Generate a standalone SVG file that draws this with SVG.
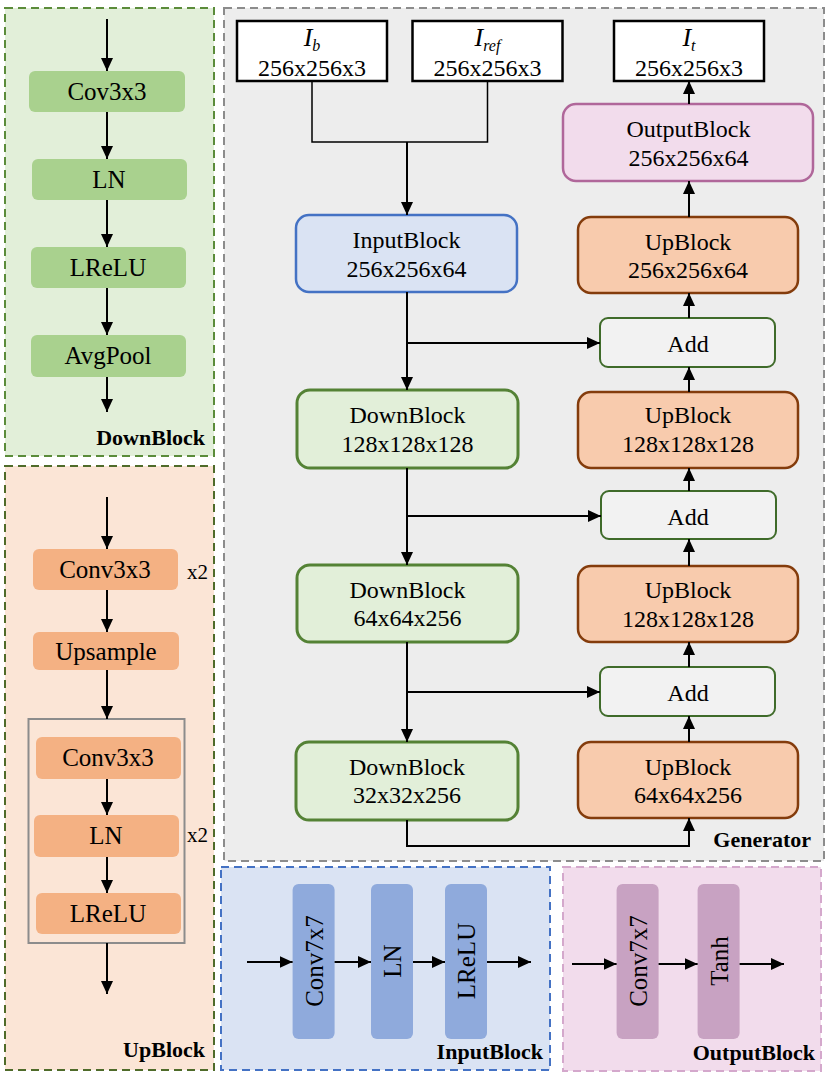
<svg xmlns="http://www.w3.org/2000/svg" width="830" height="1078" viewBox="0 0 830 1078">
<defs>
<marker id="ah" viewBox="0 0 13 12" refX="13" refY="6" markerWidth="13" markerHeight="12" markerUnits="userSpaceOnUse" orient="auto">
<path d="M0,0 L13,6 L0,12 z" fill="#000"/>
</marker>
<style>
text{font-family:"Liberation Serif","Times New Roman",serif;fill:#000;}
.t{font-size:24px;text-anchor:middle;}
.it{font-size:26px;text-anchor:middle;font-style:italic;}
.s{font-size:25px;text-anchor:middle;}
.lbl{font-size:22px;font-weight:bold;text-anchor:end;}
.x2{font-size:21px;}
.v{font-size:25px;text-anchor:middle;}
.a{stroke:#000;stroke-width:2;fill:none;marker-end:url(#ah);}
.ln{stroke:#000;stroke-width:1.5;fill:none;}
.panel{stroke-width:2;stroke-dasharray:8,5;}
.dbox{fill:#a9d18e;}
.ubox{fill:#f4b183;}
.io{fill:#fff;stroke:#000;stroke-width:2.5;}
.gin{fill:#dae3f3;stroke:#4472c4;stroke-width:2.5;}
.gdown{fill:#e2efd9;stroke:#548235;stroke-width:3;}
.gup{fill:#f8cbad;stroke:#843c0c;stroke-width:2.5;}
.gadd{fill:#f2f2f2;stroke:#3f6b2a;stroke-width:2;}
.gout{fill:#f2dcec;stroke:#b0679a;stroke-width:2.5;}
.ibar{fill:#8faadc;}
.obar{fill:#c8a2c2;}
</style>
</defs>

<!-- Panels -->
<g id="panel-downblock">
<rect class="panel" x="5" y="8" width="209" height="448" fill="#e2efd9" stroke="#5b8c3a"/>
<text class="lbl" x="205" y="445">DownBlock</text>
</g>
<g id="panel-upblock">
<rect class="panel" x="5" y="466" width="209" height="604" fill="#fbe5d6" stroke="#4f6b2a"/>
<text class="lbl" x="205" y="1057">UpBlock</text>
</g>
<g id="panel-generator">
<rect class="panel" x="224" y="8" width="600" height="853" fill="#ededed" stroke="#8c8c8c"/>
<text class="lbl" x="811" y="847">Generator</text>
</g>
<g id="panel-inputblock">
<rect class="panel" x="221" y="867" width="329" height="203" fill="#dae3f3" stroke="#4472c4"/>
<text class="lbl" x="543" y="1059">InputBlock</text>
</g>
<g id="panel-outputblock">
<rect class="panel" x="563" y="867" width="258" height="204" fill="#f2dcec" stroke="#d4a8cc"/>
<text class="lbl" x="815" y="1060">OutputBlock</text>
</g>

<!-- DownBlock detail nodes -->
<g id="db-conv"><rect class="dbox" x="29" y="71" width="156" height="41" rx="6"/><text class="s" x="107" y="100">Cov3x3</text></g>
<g id="db-ln"><rect class="dbox" x="32" y="159" width="155" height="41" rx="6"/><text class="s" x="109" y="188">LN</text></g>
<g id="db-lrelu"><rect class="dbox" x="31" y="247" width="155" height="41" rx="6"/><text class="s" x="108" y="276">LReLU</text></g>
<g id="db-avgpool"><rect class="dbox" x="31" y="335" width="155" height="42" rx="6"/><text class="s" x="108" y="364">AvgPool</text></g>

<!-- UpBlock detail nodes -->
<g id="ub-conv1"><rect class="ubox" x="33" y="549" width="145" height="41" rx="6"/><text class="s" x="105" y="578">Conv3x3</text></g>
<text class="x2" x="187" y="579">x2</text>
<g id="ub-upsample"><rect class="ubox" x="33" y="632" width="146" height="38" rx="6"/><text class="s" x="106" y="660">Upsample</text></g>
<g id="ub-repeat"><rect x="28.5" y="719" width="156" height="224" fill="none" stroke="#8c8c8c" stroke-width="2"/></g>
<g id="ub-conv2"><rect class="ubox" x="36" y="737" width="145" height="42" rx="6"/><text class="s" x="108" y="766">Conv3x3</text></g>
<g id="ub-ln"><rect class="ubox" x="34" y="815" width="145" height="42" rx="6"/><text class="s" x="106" y="844">LN</text></g>
<g id="ub-lrelu"><rect class="ubox" x="36" y="893" width="145" height="41" rx="6"/><text class="s" x="108" y="922">LReLU</text></g>
<text class="x2" x="187" y="842">x2</text>

<!-- Generator nodes -->
<g id="in-ib"><rect class="io" x="237" y="21" width="150" height="60"/><text class="it" x="312" y="46">I<tspan font-size="16" dy="5">b</tspan></text><text class="t" x="312" y="76">256x256x3</text></g>
<g id="in-iref"><rect class="io" x="412.5" y="21" width="150" height="60"/><text class="it" x="487.5" y="46">I<tspan font-size="16" dy="5">ref</tspan></text><text class="t" x="487.5" y="76">256x256x3</text></g>
<g id="out-it"><rect class="io" x="614" y="21" width="150" height="60"/><text class="it" x="689" y="46">I<tspan font-size="16" dy="5">t</tspan></text><text class="t" x="689" y="76">256x256x3</text></g>

<g id="g-inputblock"><rect class="gin" x="296" y="215" width="221" height="77" rx="13"/><text class="t" x="406.5" y="248">InputBlock</text><text class="t" x="406.5" y="277">256x256x64</text></g>
<g id="g-down1"><rect class="gdown" x="297" y="390" width="221" height="78" rx="13"/><text class="t" x="407.5" y="423">DownBlock</text><text class="t" x="407.5" y="452">128x128x128</text></g>
<g id="g-down2"><rect class="gdown" x="297" y="565" width="221" height="77" rx="13"/><text class="t" x="407.5" y="598">DownBlock</text><text class="t" x="407.5" y="626">64x64x256</text></g>
<g id="g-down3"><rect class="gdown" x="296" y="742" width="222" height="78" rx="13"/><text class="t" x="407" y="775">DownBlock</text><text class="t" x="407" y="803">32x32x256</text></g>

<g id="g-outputblock"><rect class="gout" x="563" y="104" width="250" height="77" rx="13"/><text class="t" x="688.5" y="137">OutputBlock</text><text class="t" x="688.5" y="166">256x256x64</text></g>
<g id="g-up256"><rect class="gup" x="578" y="217" width="220" height="76" rx="13"/><text class="t" x="688" y="250">UpBlock</text><text class="t" x="688" y="278">256x256x64</text></g>
<g id="g-add1"><rect class="gadd" x="600" y="318" width="175" height="49" rx="8"/><text class="t" x="688" y="352">Add</text></g>
<g id="g-up128a"><rect class="gup" x="578" y="392" width="220" height="76" rx="13"/><text class="t" x="688" y="423">UpBlock</text><text class="t" x="688" y="452">128x128x128</text></g>
<g id="g-add2"><rect class="gadd" x="601" y="491" width="175" height="48" rx="8"/><text class="t" x="688" y="525">Add</text></g>
<g id="g-up128b"><rect class="gup" x="578" y="566" width="220" height="76" rx="13"/><text class="t" x="688" y="598">UpBlock</text><text class="t" x="688" y="627">128x128x128</text></g>
<g id="g-add3"><rect class="gadd" x="600" y="667" width="175" height="49" rx="8"/><text class="t" x="688" y="701">Add</text></g>
<g id="g-up64"><rect class="gup" x="578" y="742" width="220" height="76" rx="13"/><text class="t" x="688" y="775">UpBlock</text><text class="t" x="688" y="803">64x64x256</text></g>

<!-- InputBlock detail -->
<g id="ib-conv"><rect class="ibar" x="292.6" y="884" width="42" height="155" rx="6"/><text class="v" x="313.6" y="970" transform="rotate(-90 313.6 961)">Conv7x7</text></g>
<g id="ib-ln"><rect class="ibar" x="371" y="884" width="42" height="155" rx="6"/><text class="v" x="392" y="970" transform="rotate(-90 392 961)">LN</text></g>
<g id="ib-lrelu"><rect class="ibar" x="445" y="884" width="42" height="155" rx="6"/><text class="v" x="466" y="970" transform="rotate(-90 466 961)">LReLU</text></g>

<!-- OutputBlock detail -->
<g id="ob-conv"><rect class="obar" x="616.6" y="884" width="42" height="155" rx="6"/><text class="v" x="637.6" y="970" transform="rotate(-90 637.6 961)">Conv7x7</text></g>
<g id="ob-tanh"><rect class="obar" x="697.6" y="884" width="42" height="155" rx="6"/><text class="v" x="718.6" y="970" transform="rotate(-90 718.6 961)">Tanh</text></g>

<!-- Connectors -->
<g id="connectors">
<line class="a" x1="107" y1="19" x2="107" y2="71"/>
<line class="a" x1="107" y1="112" x2="107" y2="159"/>
<line class="a" x1="107" y1="200" x2="107" y2="247"/>
<line class="a" x1="107" y1="288" x2="107" y2="335"/>
<line class="a" x1="107" y1="377" x2="107" y2="412"/>

<line class="a" x1="107" y1="497" x2="107" y2="549"/>
<line class="a" x1="107" y1="590" x2="107" y2="632"/>
<line class="a" x1="107" y1="670" x2="107" y2="719"/>
<line class="a" x1="107" y1="779" x2="107" y2="815"/>
<line class="a" x1="107" y1="857" x2="107" y2="893"/>
<line class="a" x1="107" y1="943" x2="107" y2="994"/>

<polyline class="ln" points="312,81 312,142 487.5,142 487.5,81"/>
<line class="a" x1="407" y1="142" x2="407" y2="215"/>
<line class="a" x1="407" y1="292" x2="407" y2="390"/>
<line class="a" x1="407" y1="343" x2="600" y2="343"/>
<line class="a" x1="407" y1="468" x2="407" y2="565"/>
<line class="a" x1="407" y1="516" x2="601" y2="516"/>
<line class="a" x1="407" y1="642" x2="407" y2="742"/>
<line class="a" x1="407" y1="692" x2="600" y2="692"/>
<polyline class="a" points="407,820 407,846 689,846 689,818"/>

<line class="a" x1="689" y1="742" x2="689" y2="716"/>
<line class="a" x1="689" y1="667" x2="689" y2="642"/>
<line class="a" x1="689" y1="566" x2="689" y2="539"/>
<line class="a" x1="689" y1="491" x2="689" y2="468"/>
<line class="a" x1="689" y1="392" x2="689" y2="367"/>
<line class="a" x1="689" y1="318" x2="689" y2="293"/>
<line class="a" x1="689" y1="217" x2="689" y2="181"/>
<line class="a" x1="689" y1="104" x2="689" y2="81"/>

<line class="a" x1="247" y1="962" x2="292.6" y2="962"/>
<line class="a" x1="334.6" y1="962" x2="371" y2="962"/>
<line class="a" x1="413" y1="962" x2="445" y2="962"/>
<line class="a" x1="487" y1="962" x2="531" y2="962"/>

<line class="a" x1="572" y1="964" x2="616.6" y2="964"/>
<line class="a" x1="658.6" y1="964" x2="697.6" y2="964"/>
<line class="a" x1="739.6" y1="964" x2="784" y2="964"/>
</g>
</svg>
